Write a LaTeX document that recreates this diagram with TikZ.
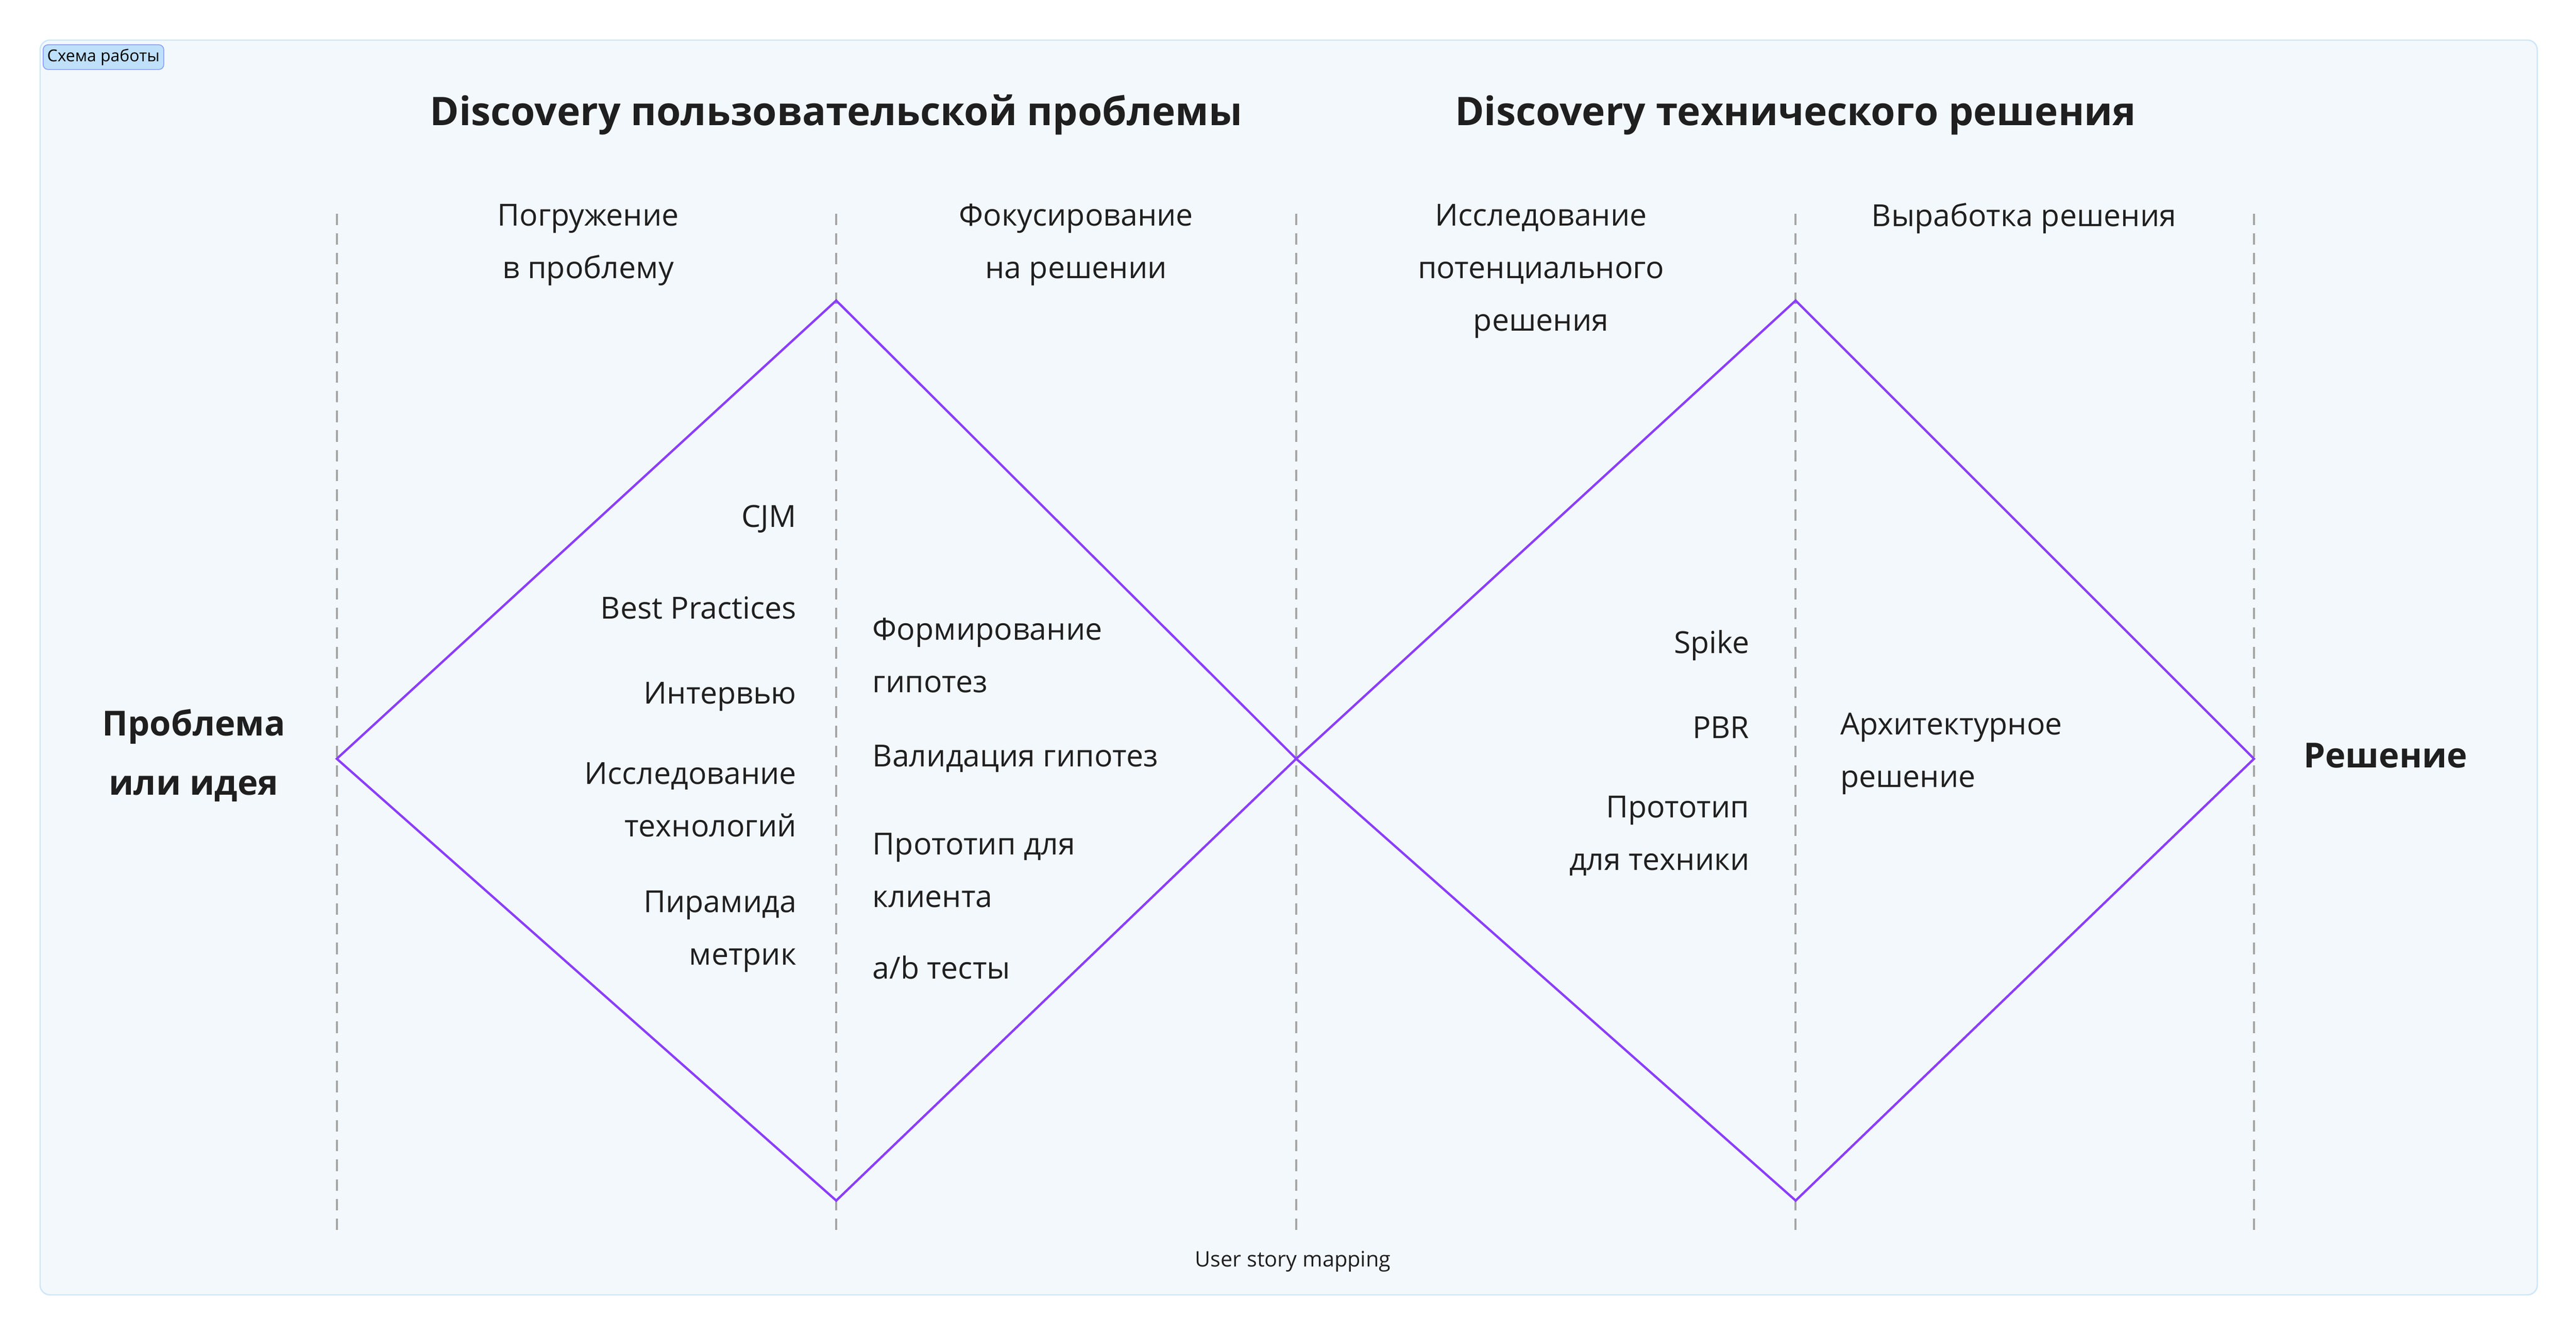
\documentclass[tikz,border=0pt]{standalone}
\usepackage{fontspec}
\setmainfont{Open Sans}
\begin{document}
\begin{tikzpicture}[x=1pt,y=-1pt,
 body/.style={font=\fontsize{18.5}{32}\selectfont,text=black!88,inner sep=0pt},
 ttl/.style={font=\fontsize{24}{30}\selectfont\bfseries,text=black!88,inner sep=0pt},
 big/.style={font=\fontsize{21}{36}\selectfont\bfseries,text=black!88,inner sep=0pt,align=center},
 guide/.style={draw=black!35,dashed,dash pattern=on 7pt off 5pt,line width=1.3pt},
 dia/.style={draw=violet1,line width=1.4pt}]
\definecolor{violet1}{HTML}{8B3DFF}
\definecolor{framefill}{HTML}{F3F8FD}
\definecolor{framedraw}{HTML}{CFE6F7}
\definecolor{tagfill}{HTML}{BFE0FB}
\useasboundingbox (0,0) rectangle (1568,812.7);
\fill[white] (0,0) rectangle (1568,812.7);
\node[draw=framedraw,fill=framefill,rounded corners=6pt,line width=0.8pt,minimum width=1520pt,minimum height=764pt,anchor=north west,inner sep=0pt] (frame) at (24,24) {};
\node[fill=tagfill,draw=tagfill!70!blue,rounded corners=3pt,anchor=north west,font=\fontsize{10}{12}\selectfont,inner sep=2.5pt,line width=0.5pt] (tag) at (26,27) {Схема работы};
% guides
\foreach \n/\x in {g1/205,g2/509,g3/789,g4/1093,g5/1372}{
 \coordinate (\n t) at (\x,130); \coordinate (\n b) at (\x,750);
 \draw[guide] (\n t) -- (\n b);}
% diamonds
\coordinate (L) at (205,462); \coordinate (T1) at (509,183); \coordinate (M) at (789,462); \coordinate (B1) at (509,731);
\coordinate (T2) at (1093,183); \coordinate (R) at (1372,462); \coordinate (B2) at (1093,731);
\draw[dia] (L) -- (T1) -- (M) -- (B1) -- cycle;
\draw[dia] (M) -- (T2) -- (R) -- (B2) -- cycle;
% titles
\node[ttl] (t1) at (509,70) {Discovery пользовательской проблемы};
\node[ttl] (t2) at (1093,70) {Discovery технического решения};
\node[body,align=center] (h1) at (358,149) {Погружение\\в проблему};
\node[body,align=center] (h2) at (655,149) {Фокусирование\\на решении};
\node[body,align=center] (h3) at (938,165) {Исследование\\потенциального\\решения};
\node[body] (h4) at (1232,133) {Выработка решения};
% left list
\node[body,anchor=east] (a1) at (485,316) {CJM};
\node[body,anchor=east] (a2) at (485,370) {Best Practices};
\node[body,anchor=east] (a3) at (485,424) {Интервью};
\node[body,anchor=east,align=right] (a4) at (485,487) {Исследование\\технологий};
\node[body,anchor=east,align=right] (a5) at (485,567) {Пирамида\\метрик};
% middle list
\node[body,anchor=west,align=left] (b1) at (531,399) {Формирование\\гипотез};
\node[body,anchor=west] (b2) at (531,462) {Валидация гипотез};
\node[body,anchor=west,align=left] (b3) at (531,530) {Прототип для\\клиента};
\node[body,anchor=west] (b4) at (531,589) {a/b тесты};
% right
\node[body,anchor=east] (c1) at (1065,393) {Spike};
\node[body,anchor=east] (c2) at (1065,443) {PBR};
\node[body,anchor=east,align=right] (c3) at (1065,509) {Прототип\\для техники};
\node[body,anchor=west,align=left] (d1) at (1120,459) {Архитектурное\\решение};
\node[big] (p) at (118,460) {Проблема\\или идея};
\node[big] (s) at (1452,460) {Решение};
\node[font=\fontsize{13}{15}\selectfont,text=black!88,inner sep=0pt] (usm) at (787,768) {User story mapping};
\end{tikzpicture}
\end{document}
